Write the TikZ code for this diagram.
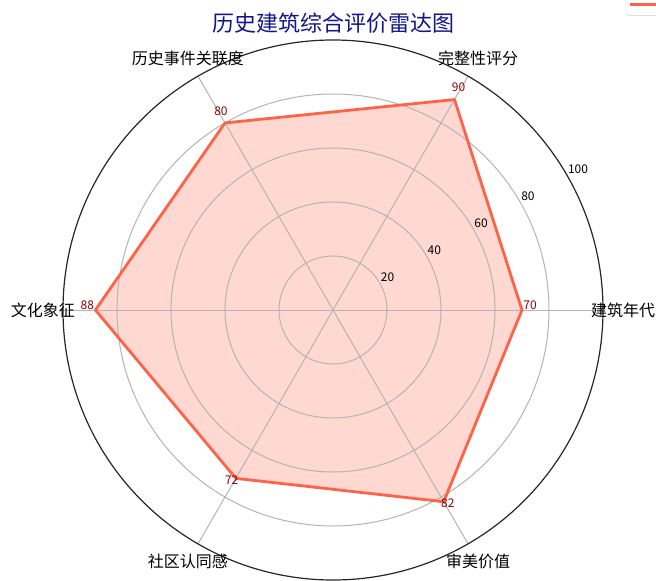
\documentclass[tikz,border=0pt]{standalone}
\usepackage{fontspec}
\setmainfont{Noto Sans CJK SC}

\definecolor{tomatored}{RGB}{255,99,71}
\definecolor{gridgray}{RGB}{180,180,180}
\definecolor{titleblue}{RGB}{20,20,140}
\definecolor{valred}{RGB}{139,0,0}

\begin{document}
\begin{tikzpicture}[x=1pt, y=1pt,
    axislabel/.style={font=\fontsize{16}{18}\selectfont, inner sep=0pt},
    ticklabel/.style={font=\fontsize{12}{14}\selectfont, anchor=south west, inner sep=1pt},
    valuelabel/.style={font=\fontsize{12}{14}\selectfont, text=valred, anchor=south, inner sep=0.5pt},
    gridline/.style={draw=gridgray, line width=1pt}]
\useasboundingbox (-333,-271) rectangle (323,310);

\coordinate (c) at (0,0);
\coordinate (o1) at (0:270);
\coordinate (o2) at (60:270);
\coordinate (o3) at (120:270);
\coordinate (o4) at (180:270);
\coordinate (o5) at (240:270);
\coordinate (o6) at (300:270);
\coordinate (p1) at (0:189);
\coordinate (p2) at (60:243);
\coordinate (p3) at (120:216);
\coordinate (p4) at (180:237.6);
\coordinate (p5) at (240:194.4);
\coordinate (p6) at (300:221.4);

\fill[tomatored, fill opacity=0.25] (p1) -- (p2) -- (p3) -- (p4) -- (p5) -- (p6) -- cycle;

\draw[gridline] (c) circle[radius=54];
\draw[gridline] (c) circle[radius=108];
\draw[gridline] (c) circle[radius=162];
\draw[gridline] (c) circle[radius=216];
\draw[gridline] (c) -- (o1);
\draw[gridline] (c) -- (o2);
\draw[gridline] (c) -- (o3);
\draw[gridline] (c) -- (o4);
\draw[gridline] (c) -- (o5);
\draw[gridline] (c) -- (o6);
\draw[line width=1.2pt, black!85] (c) circle[radius=270];

\draw[tomatored, line width=2.8pt, line join=round] (p1) -- (p2) -- (p3) -- (p4) -- (p5) -- (p6) -- cycle;

\path
    node[axislabel] (a1) at (0:290) {建筑年代}
    node[axislabel] (a2) at (60:290) {完整性评分}
    node[axislabel] (a3) at (120:290) {历史事件关联度}
    node[axislabel] (a4) at (180:290) {文化象征}
    node[axislabel] (a5) at (240:290) {社区认同感}
    node[axislabel] (a6) at (300:290) {审美价值};

\path
    node[ticklabel] (r20) at (30:54) {20}
    node[ticklabel] (r40) at (30:108) {40}
    node[ticklabel] (r60) at (30:162) {60}
    node[ticklabel] (r80) at (30:216) {80}
    node[ticklabel] (r100) at (30:270) {100};

\path
    node[valuelabel] (v1) at (0:197.1) {70}
    node[valuelabel] (v2) at (60:251.1) {90}
    node[valuelabel] (v3) at (120:224.1) {80}
    node[valuelabel] (v4) at (180:245.7) {88}
    node[valuelabel] (v5) at (240:202.5) {72}
    node[valuelabel] (v6) at (300:229.5) {82};

\node[font=\fontsize{22}{26}\selectfont, text=titleblue] (title) at (1,287) {历史建筑综合评价雷达图};

% legend, cut off at the right edge
\draw[gray!40, fill=white, rounded corners=3pt] (293,294.3) rectangle (420,340);
\coordinate (l1) at (297,305.5);
\coordinate (l2) at (330,305.5);
\draw[tomatored, line width=2.8pt] (l1) -- (l2);
\end{tikzpicture}
\end{document}
